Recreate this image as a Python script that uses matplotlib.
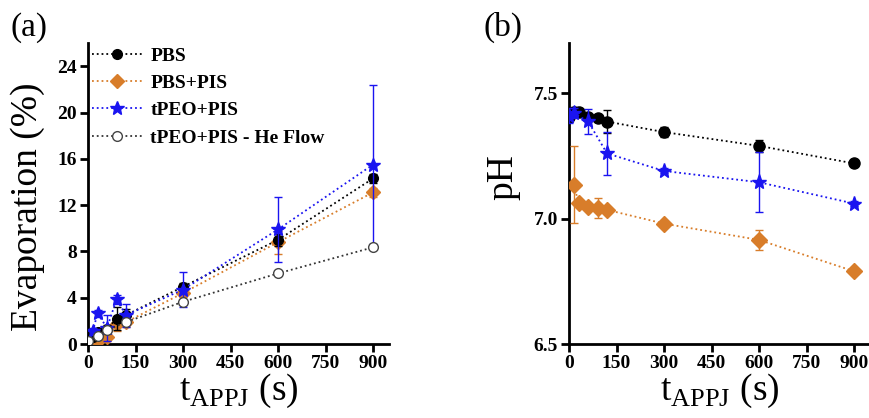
"""Evaporation and pH vs APPJ treatment time, two panels."""

import matplotlib.pyplot as plt

plt.rcParams["font.family"] = ["Liberation Serif", "DejaVu Serif"]
plt.rcParams["mathtext.fontset"] = "custom"
plt.rcParams["mathtext.rm"] = "Liberation Serif"

ORANGE = "#d87d2a"
BLUE = "#1a14f0"

# (a) evaporation (%)
t_evap = [15, 30, 60, 90, 120, 300, 600, 900]
evap_pbs = [0.6, 1.0, 1.3, 2.2, 2.5, 4.95, 9.0, 14.3]
evap_pbs_err = [0.2, 0.2, 0.3, 1.0, 0.5, 0.3, 0.5, 0.4]
evap_pbs_pis = [0.2, 0.3, 0.6, 1.7, 1.9, 4.4, 8.8, 13.1]
evap_pbs_pis_err = [0.2, 0.2, 0.3, 0.6, 0.4, 0.3, 1.0, 0.4]
evap_tpeo = [1.1, 2.65, 1.4, 3.85, 2.5, 4.7, 9.9, 15.5]
evap_tpeo_err = [0.3, 0.3, 1.1, 0.4, 1.0, 1.5, 2.8, 6.9]
t_he = [0, 30, 60, 120, 300, 600, 900]
evap_he = [0.3, 0.7, 1.2, 1.9, 3.65, 6.1, 8.35]

# (b) pH
t_ph_pbs = [0, 15, 30, 60, 90, 120, 300, 600, 900]
ph_pbs = [7.405, 7.427, 7.424, 7.405, 7.40, 7.387, 7.345, 7.29, 7.22]
ph_pbs_err = [0.02, 0.02, 0.01, 0.01, 0.01, 0.045, 0.02, 0.025, 0.01]
t_ph_pis = [15, 30, 60, 90, 120, 300, 600, 900]
ph_pbs_pis = [7.135, 7.064, 7.046, 7.044, 7.035, 6.98, 6.915, 6.79]
ph_pbs_pis_err = [0.153, 0.01, 0.01, 0.04, 0.01, 0.01, 0.04, 0.01]
t_ph_tpeo = [0, 15, 60, 120, 300, 600, 900]
ph_tpeo = [7.41, 7.42, 7.388, 7.26, 7.19, 7.145, 7.06]
ph_tpeo_err = [0.03, 0.02, 0.05, 0.085, 0.01, 0.12, 0.01]

labels = ["PBS", "PBS+PIS", "tPEO+PIS", "tPEO+PIS - He Flow"]
xticks = [0, 150, 300, 450, 600, 750, 900]


def style_axes(ax):
    for side in ["top", "right"]:
        ax.spines[side].set_visible(False)
    for side in ["left", "bottom"]:
        ax.spines[side].set_linewidth(2)
    ax.tick_params(direction="out", length=6, width=2, labelsize=14, pad=2)
    for lab in ax.get_xticklabels() + ax.get_yticklabels():
        lab.set_fontweight("bold")
    ax.set_xlabel(r"t$_{\mathregular{APPJ}}$ (s)", fontsize=27, labelpad=0)


fig = plt.figure(figsize=(8.69, 4.18), dpi=100)
ax1 = fig.add_axes([0.1013, 0.177, 0.3462, 0.72])
ax2 = fig.add_axes([0.6548, 0.177, 0.3462, 0.72])

eb = dict(capsize=3, elinewidth=1, capthick=1, linestyle=":", linewidth=1.3)
h_pbs = ax1.errorbar(t_evap, evap_pbs, yerr=evap_pbs_err, color="black", marker="o",
                     markersize=7, zorder=4, **eb)
h_pis = ax1.errorbar(t_evap, evap_pbs_pis, yerr=evap_pbs_pis_err, color=ORANGE,
                     marker="D", markersize=7, zorder=3, **eb)
h_tpeo = ax1.errorbar(t_evap, evap_tpeo, yerr=evap_tpeo_err, color=BLUE, marker="*",
                      markersize=10, zorder=5, **eb)
(h_he,) = ax1.plot(t_he, evap_he, color="#333333", marker="o", markersize=7,
                   markerfacecolor="white", markeredgecolor="#444444",
                   linestyle=":", linewidth=1.3, zorder=6)
ax1.set_xlim(0, 950)
ax1.set_ylim(0, 26)
ax1.set_xticks(xticks)
ax1.set_yticks(range(0, 25, 4))
ax1.set_ylabel("Evaporation (%)", fontsize=27)
ax1.yaxis.set_label_coords(-0.143, 0.455)
style_axes(ax1)
ax1.legend([h_pbs[0], h_pis[0], h_tpeo[0], h_he], labels,
           loc="upper left", bbox_to_anchor=(0, 1.0), frameon=False,
           borderaxespad=0.2, borderpad=0, handlelength=2.6,
           handletextpad=0.4, labelspacing=0.5,
           prop={"weight": "bold", "size": 14})

ax2.errorbar(t_ph_pbs, ph_pbs, yerr=ph_pbs_err, color="black", marker="o",
             markersize=8, zorder=4, **eb)
ax2.errorbar(t_ph_tpeo, ph_tpeo, yerr=ph_tpeo_err, color=BLUE, marker="*",
             markersize=11, zorder=5, **eb)
ax2.errorbar(t_ph_pis, ph_pbs_pis, yerr=ph_pbs_pis_err, color=ORANGE, marker="D",
             markersize=8, zorder=3, **eb)
ax2.set_xlim(0, 950)
ax2.set_ylim(6.5, 7.7)
ax2.set_xticks(xticks)
ax2.set_yticks([6.5, 7.0, 7.5])
ax2.set_ylabel("pH", fontsize=27)
ax2.yaxis.set_label_coords(-0.162, 0.555)
style_axes(ax2)

fig.text(0.012, 0.915, "(a)", fontsize=24)
fig.text(0.556, 0.915, "(b)", fontsize=24)

fig.savefig("out.png", dpi=100)
